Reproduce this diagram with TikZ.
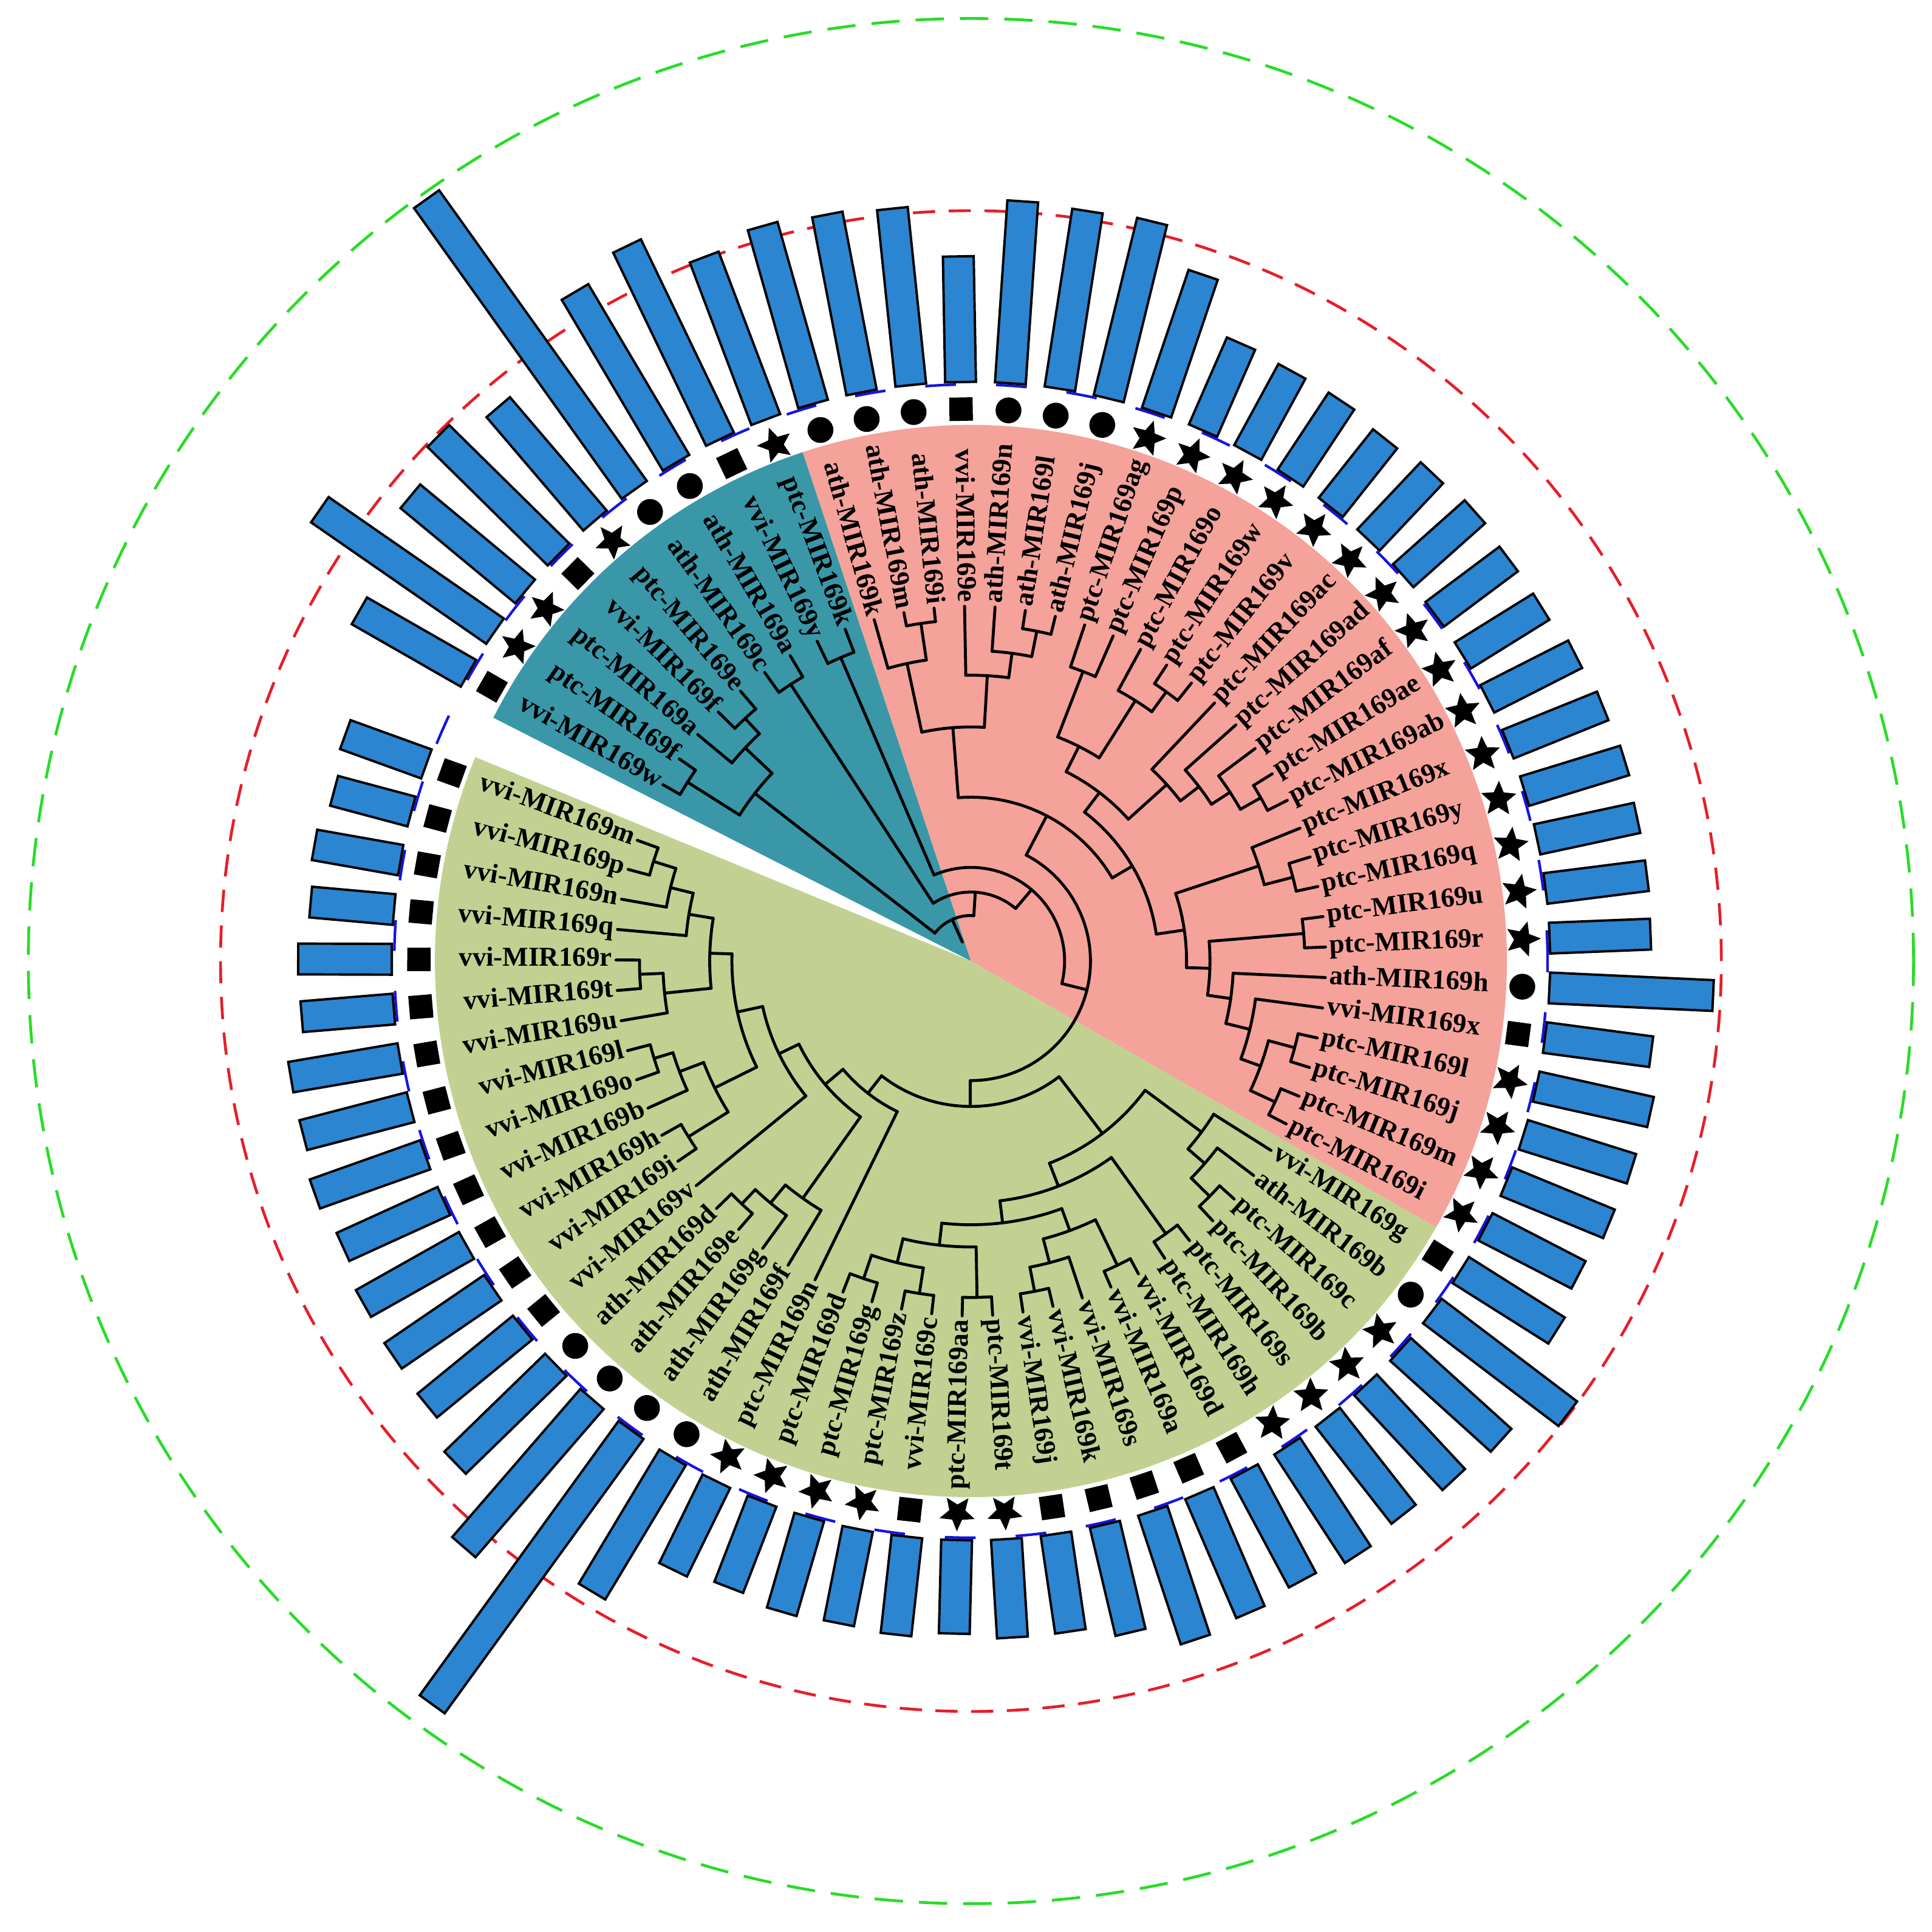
\documentclass[tikz,border=0pt]{standalone}
\usepackage{fontspec}
\setmainfont{Liberation Serif}
\usetikzlibrary{shapes.geometric}
\definecolor{cteal}{RGB}{57,151,168}
\definecolor{cpink}{RGB}{244,162,154}
\definecolor{cgreen}{RGB}{194,209,146}
\definecolor{cbar}{RGB}{44,133,208}
\definecolor{cred}{RGB}{230,30,40}
\definecolor{cgdash}{RGB}{40,220,40}
\definecolor{cblue}{RGB}{20,20,225}
\newcommand\Tarc[3]{\draw[tree] (#2:#1) arc[start angle=#2, end angle=#3, radius=#1];}
\newcommand\Trad[3]{\draw[tree] (#1:#2) -- (#1:#3);}
\begin{document}
\begin{tikzpicture}[x=0.02cm,y=0.02cm,
  tree/.style={line width=1.35pt, line cap=round, line join=round, black},
  barbox/.style={fill=cbar, draw=black, line width=1.1pt},
  lab/.style={font=\fontsize{12.6}{14}\selectfont\bfseries, inner sep=0pt, text height=1.55ex, text depth=0.3ex},
  mks/.style={rectangle, fill=black, minimum size=0.38cm, inner sep=0pt},
  mkc/.style={circle, fill=black, minimum size=0.42cm, inner sep=0pt},
  mkt/.style={star, star points=5, star point ratio=2.2, fill=black, minimum size=0.6cm, inner sep=0pt, shape border rotate=-90}]
\useasboundingbox (-788,-788) rectangle (780,780);
% dashed rings
\draw[cgdash, line width=1.3pt, dash pattern=on 0.46cm off 0.26cm] (0,0) circle[radius=765];
\draw[cred, line width=1.3pt, dash pattern=on 0.36cm off 0.22cm] (0,0) circle[radius=609];
\draw[cblue, line width=1.2pt, dash pattern=on 0.5cm off 0.65cm] (0,0) circle[radius=468];
% sectors
\fill[cteal] (0,0) -- (153.0:435) arc[start angle=153.0, end angle=108.285, radius=435] -- cycle;
\fill[cpink] (0,0) -- (108.285:435) arc[start angle=108.285, end angle=-29.785, radius=435] -- cycle;
\fill[cgreen] (0,0) -- (-29.785:435) arc[start angle=-29.785, end angle=-202.37, radius=435] -- cycle;
% leaves: bars, markers, labels
\foreach \i/\nm/\mk/\br in {
0/vvi-MIR169w/s/572, 1/ptc-MIR169f/t/643, 2/ptc-MIR169a/t/591, 3/vvi-MIR169f/s/607,
4/ptc-MIR169e/t/591, 5/ath-MIR169c/c/760, 6/ath-MIR169a/c/631, 7/vvi-MIR169y/s/644,
8/ptc-MIR169k/t/611, 9/ath-MIR169k/c/620, 10/ath-MIR169m/c/617, 11/ath-MIR169i/c/614,
12/vvi-MIR169e/s/572, 13/ath-MIR169n/c/618, 14/ath-MIR169l/c/616, 15/ath-MIR169j/c/618,
16/ptc-MIR169ag/t/588, 17/ptc-MIR169p/t/547, 18/ptc-MIR169o/t/545, 19/ptc-MIR169w/t/545,
20/ptc-MIR169v/t/541, 21/ptc-MIR169ac/t/545, 22/ptc-MIR169ad/t/548, 23/ptc-MIR169af/t/545,
24/ptc-MIR169ae/t/545, 25/ptc-MIR169ab/t/550, 26/ptc-MIR169x/t/553, 27/ptc-MIR169y/t/555,
28/ptc-MIR169q/t/553, 29/ptc-MIR169u/t/553, 30/ptc-MIR169r/t/552, 31/ath-MIR169h/c/603,
32/vvi-MIR169x/s/557, 33/ptc-MIR169l/t/565, 34/ptc-MIR169j/t/562, 35/ptc-MIR169m/t/560,
36/ptc-MIR169i/t/555, 37/vvi-MIR169g/s/562, 38/ath-MIR169b/c/608, 39/ptc-MIR169c/t/580,
40/ptc-MIR169b/t/575, 41/ptc-MIR169s/t/570, 42/ptc-MIR169h/t/575, 43/vvi-MIR169d/s/570,
44/vvi-MIR169a/s/575, 45/vvi-MIR169s/s/580, 46/vvi-MIR169k/s/560, 47/vvi-MIR169j/s/550,
48/ptc-MIR169t/t/550, 49/ptc-MIR169aa/t/546, 50/vvi-MIR169c/s/550, 51/ptc-MIR169z/t/548,
52/ptc-MIR169g/t/550, 53/ptc-MIR169d/t/545, 54/ptc-MIR169n/t/550, 55/ath-MIR169f/c/597,
56/ath-MIR169g/c/745, 57/ath-MIR169e/c/629, 58/ath-MIR169d/c/584, 59/vvi-MIR169v/s/570,
60/vvi-MIR169i/s/568, 61/vvi-MIR169h/s/566, 62/vvi-MIR169b/s/560, 63/vvi-MIR169o/s/565,
64/vvi-MIR169l/s/560, 65/vvi-MIR169u/s/560, 66/vvi-MIR169t/s/545, 67/vvi-MIR169r/s/546,
68/vvi-MIR169q/s/538, 69/vvi-MIR169n/s/541, 70/vvi-MIR169p/s/535, 71/vvi-MIR169m/s/540}{
  \pgfmathsetmacro\a{150.2-4.931*\i}
  \pgfmathtruncatemacro\flip{or(\a>90,\a<-90)}
  \draw[barbox, rotate=\a] (470,-12.5) rectangle (\br,12.5);
  \node[mk\mk, rotate=\a] (m\i) at (\a:448) {};
  \ifnum\flip=1
    \node[lab, anchor=east, rotate=\a+180] (l\i) at (\a:291) {\nm};
  \else
    \node[lab, anchor=west, rotate=\a] (l\i) at (\a:291) {\nm};
  \fi
}
% ---- tree: teal
\Tarc{272}{150.20}{145.27} \Trad{150.20}{272}{288} \Trad{145.27}{272}{288}
\Tarc{269}{135.41}{130.48} \Trad{135.41}{269}{288} \Trad{130.48}{269}{288}
\Tarc{252}{140.34}{132.945} \Trad{140.34}{252}{288} \Trad{132.945}{252}{269}
\Tarc{222}{147.735}{136.64} \Trad{147.735}{222}{272} \Trad{136.64}{222}{252}
\Tarc{268}{125.55}{120.61} \Trad{125.55}{268}{288} \Trad{120.61}{268}{288}
\Tarc{268}{115.68}{110.75} \Trad{115.68}{268}{288} \Trad{110.75}{268}{288}
% ---- pink top
\Tarc{277}{100.89}{95.96} \Trad{100.89}{277}{288} \Trad{95.96}{277}{288}
\Tarc{247}{105.82}{98.425} \Trad{105.82}{247}{288} \Trad{98.425}{247}{277}
\Tarc{273}{81.17}{76.24} \Trad{81.17}{273}{288} \Trad{76.24}{273}{288}
\Tarc{252}{86.10}{78.705} \Trad{86.10}{252}{288} \Trad{78.705}{252}{273}
\Tarc{232}{91.03}{82.40} \Trad{91.03}{232}{288} \Trad{82.40}{232}{252}
\Tarc{190}{102.12}{86.715} \Trad{102.12}{190}{247} \Trad{86.715}{190}{232}
% ---- pink right
\Tarc{252}{71.30}{66.37} \Trad{71.30}{252}{288} \Trad{66.37}{252}{288}
\Tarc{270}{56.51}{51.58} \Trad{56.51}{270}{288} \Trad{51.58}{270}{288}
\Tarc{250}{61.44}{54.045} \Trad{61.44}{250}{288} \Trad{54.045}{250}{270}
\Tarc{195}{68.835}{57.74} \Trad{68.835}{195}{252} \Trad{57.74}{195}{250}
\Tarc{270}{31.86}{26.93} \Trad{31.86}{270}{288} \Trad{26.93}{270}{288}
\Tarc{251}{36.79}{29.395} \Trad{36.79}{251}{288} \Trad{29.395}{251}{270}
\Tarc{233}{41.72}{33.09} \Trad{41.72}{233}{288} \Trad{33.09}{233}{251}
\Tarc{214}{46.65}{37.405} \Trad{46.65}{214}{288} \Trad{37.405}{214}{233}
\Tarc{172}{63.29}{42.03} \Trad{63.29}{172}{195} \Trad{42.03}{172}{214}
\Tarc{270}{17.06}{12.13} \Trad{17.06}{270}{288} \Trad{12.13}{270}{288}
\Tarc{246}{21.99}{14.595} \Trad{21.99}{246}{288} \Trad{14.595}{246}{270}
\Tarc{271}{7.20}{2.27} \Trad{7.20}{271}{288} \Trad{2.27}{271}{288}
\Tarc{272}{-12.52}{-17.45} \Trad{-12.52}{272}{288} \Trad{-17.45}{272}{288}
\Tarc{272}{-22.39}{-27.32} \Trad{-22.39}{272}{288} \Trad{-27.32}{272}{288}
\Tarc{250}{-14.985}{-24.855} \Trad{-14.985}{250}{272} \Trad{-24.855}{250}{272}
\Tarc{233}{-7.59}{-19.92} \Trad{-7.59}{233}{288} \Trad{-19.92}{233}{250}
\Tarc{213}{-2.66}{-13.755} \Trad{-2.66}{213}{288} \Trad{-13.755}{213}{233}
\Tarc{194}{4.735}{-8.21} \Trad{4.735}{194}{271} \Trad{-8.21}{194}{213}
\Tarc{175}{18.29}{-1.74} \Trad{18.29}{175}{246} \Trad{-1.74}{175}{194}
\Tarc{152}{52.66}{8.275} \Trad{52.66}{152}{172} \Trad{8.275}{152}{175}
\Tarc{133}{94.42}{30.47} \Trad{94.42}{133}{190} \Trad{30.47}{133}{152}
% ---- green right
\Tarc{272}{-42.11}{-47.04} \Trad{-42.11}{272}{288} \Trad{-47.04}{272}{288}
\Tarc{251}{-37.18}{-44.575} \Trad{-37.18}{251}{288} \Trad{-44.575}{251}{272}
\Tarc{233}{-32.25}{-40.88} \Trad{-32.25}{233}{288} \Trad{-40.88}{233}{251}
\Tarc{272}{-51.97}{-56.90} \Trad{-51.97}{272}{288} \Trad{-56.90}{272}{288}
\Tarc{274}{-61.83}{-66.76} \Trad{-61.83}{274}{288} \Trad{-66.76}{274}{288}
\Tarc{273}{-76.63}{-81.56} \Trad{-76.63}{273}{288} \Trad{-81.56}{273}{288}
\Tarc{253}{-71.70}{-79.095} \Trad{-71.70}{253}{288} \Trad{-79.095}{253}{273}
\Tarc{233}{-64.295}{-75.40} \Trad{-64.295}{233}{274} \Trad{-75.40}{233}{253}
\Tarc{273}{-86.49}{-91.42} \Trad{-86.49}{273}{288} \Trad{-91.42}{273}{288}
\Tarc{273}{-96.35}{-101.28} \Trad{-96.35}{273}{288} \Trad{-101.28}{273}{288}
\Tarc{272}{-106.21}{-111.14} \Trad{-106.21}{272}{288} \Trad{-111.14}{272}{288}
\Tarc{252}{-98.815}{-108.675} \Trad{-98.815}{252}{273} \Trad{-108.675}{252}{272}
\Tarc{232}{-88.955}{-103.745} \Trad{-88.955}{232}{273} \Trad{-103.745}{232}{252}
\Tarc{214}{-69.85}{-96.35} \Trad{-69.85}{214}{233} \Trad{-96.35}{214}{232}
\Tarc{196}{-54.435}{-83.10} \Trad{-54.435}{196}{272} \Trad{-83.10}{196}{214}
\Tarc{176}{-36.565}{-68.77} \Trad{-36.565}{176}{233} \Trad{-68.77}{176}{196}
% ---- green left
\Tarc{271}{-130.87}{-135.80} \Trad{-130.87}{271}{288} \Trad{-135.80}{271}{288}
\Tarc{255}{-125.94}{-133.335} \Trad{-125.94}{255}{288} \Trad{-133.335}{255}{271}
\Tarc{236}{-121.01}{-129.64} \Trad{-121.01}{236}{288} \Trad{-129.64}{236}{255}
\Tarc{270}{-145.66}{-150.59} \Trad{-145.66}{270}{288} \Trad{-150.59}{270}{288}
\Tarc{269}{-160.45}{-165.38} \Trad{-160.45}{269}{288} \Trad{-165.38}{269}{288}
\Tarc{253}{-155.52}{-162.915} \Trad{-155.52}{253}{288} \Trad{-162.915}{253}{269}
\Tarc{232}{-148.125}{-159.22} \Trad{-148.125}{232}{270} \Trad{-159.22}{232}{253}
\Tarc{269}{-175.25}{-180.18} \Trad{-175.25}{269}{288} \Trad{-180.18}{269}{288}
\Tarc{250}{-170.32}{-177.715} \Trad{-170.32}{250}{288} \Trad{-177.715}{250}{269}
\Tarc{270}{-194.97}{-199.90} \Trad{-194.97}{270}{288} \Trad{-199.90}{270}{288}
\Tarc{251}{-190.04}{-197.435} \Trad{-190.04}{251}{288} \Trad{-197.435}{251}{270}
\Tarc{232}{-185.11}{-193.74} \Trad{-185.11}{232}{288} \Trad{-193.74}{232}{251}
\Tarc{212}{-174.02}{-189.425} \Trad{-174.02}{212}{250} \Trad{-189.425}{212}{232}
\Tarc{194}{-153.67}{-181.72} \Trad{-153.67}{194}{232} \Trad{-181.72}{194}{212}
\Tarc{173}{-140.73}{-167.695} \Trad{-140.73}{173}{288} \Trad{-167.695}{173}{194}
\Tarc{155}{-125.325}{-154.21} \Trad{-125.325}{155}{236} \Trad{-154.21}{155}{173}
\Tarc{136}{-116.07}{-139.77} \Trad{-116.07}{136}{288} \Trad{-139.77}{136}{155}
\Tarc{118}{-52.67}{-127.92} \Trad{-52.67}{118}{176} \Trad{-127.92}{118}{136}
% ---- backbone
\Tarc{97}{62.445}{-90.295} \Trad{62.445}{97}{133} \Trad{-90.295}{97}{118}
\Tarc{76}{113.215}{-13.925} \Trad{113.215}{76}{268} \Trad{-13.925}{76}{97}
\Tarc{56}{123.08}{49.645} \Trad{123.08}{56}{268} \Trad{49.645}{56}{76}
\Tarc{37}{142.19}{86.36} \Trad{142.19}{37}{222} \Trad{86.36}{37}{56}
\Trad{114.275}{17}{37}
\end{tikzpicture}
\end{document}
